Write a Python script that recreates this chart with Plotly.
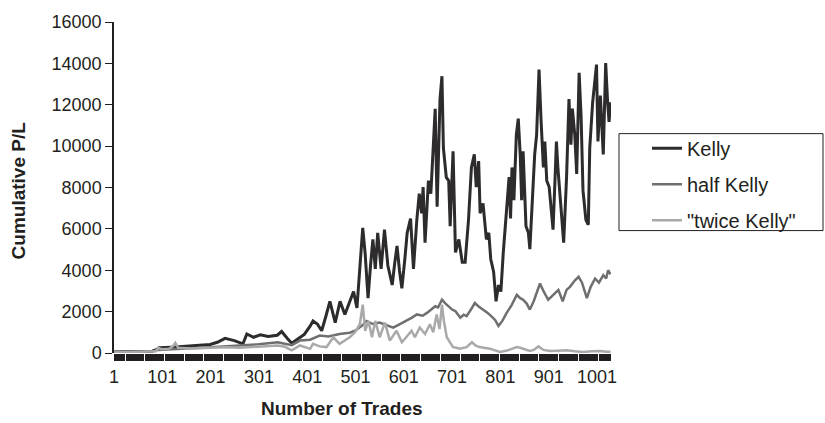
import plotly.graph_objects as go

# ---------------- data ----------------
kelly_trades = [1, 20, 50, 80, 90, 95, 120, 135, 160, 180, 200, 215, 231, 250, 268, 276, 290, 304, 320, 339,
                348, 360, 369, 380, 386, 395, 407, 413, 422, 431, 440, 448, 459, 469, 479, 490, 497, 504, 511, 516,
                521, 527, 532, 537, 542, 547, 554, 561, 568, 577, 582, 587, 592, 597, 603, 608, 615, 621, 628, 633,
                638, 641, 645, 652, 657, 661, 666, 670, 676, 680, 683, 689, 694, 697, 703, 708, 715, 722, 728, 735,
                741, 747, 751, 756, 759, 765, 772, 777, 781, 787, 792, 797, 802, 807, 813, 817, 819, 822, 825, 829,
                834, 838, 842, 845, 848, 854, 859, 862, 868, 872, 876, 881, 885, 890, 893, 897, 902, 907, 910, 914,
                917, 920, 924, 929, 932, 938, 943, 947, 950, 955, 959, 964, 968, 972, 978, 983, 986, 992, 997, 1000,
                1003, 1008, 1014, 1019, 1023, 1026, 1029]
kelly_pl = [50, 60, 70, 90, 180, 250, 280, 300, 320, 380, 410, 520, 710, 600, 445, 920, 760, 880, 800, 860,
            1040, 700, 475, 650, 760, 900, 1300, 1550, 1400, 1075, 1800, 2500, 1470, 2500, 1860, 2600, 2970, 2180, 4545, 6045,
            4800, 2650, 4200, 5490, 4070, 5810, 4070, 5965, 4230, 3285, 4300, 5180, 4000, 3125, 4500, 5810, 6500, 4070, 6440, 7700,
            6755, 8020, 5335, 8330, 7700, 9750, 11800, 7070, 12280, 13380, 9910, 8490, 8330, 6125, 9750, 4860, 5490, 4390, 4390, 6440,
            8970, 9600, 8020, 9280, 6755, 7230, 5490, 5810, 4545, 3915, 2495, 3285, 2970, 4860, 6600, 7545, 8500, 6500, 8970, 7385,
            10540, 11330, 9600, 7385, 9750, 6125, 5810, 5020, 8175, 9600, 10540, 13700, 11330, 8970, 10225, 8330, 8020, 6600, 5965, 8330,
            10225, 8970, 7700, 6600, 5335, 8490, 12280, 10070, 11810, 10540, 8650, 13540, 11490, 7860, 6440, 6200, 9910, 12120, 13380, 13940,
            10225, 12440, 9600, 14015, 12120, 11175, 12120]

half_trades = [1, 40, 80, 92, 110, 130, 160, 200, 230, 270, 300, 340, 369, 386, 407, 427, 445, 468, 489, 500,
               514, 524, 537, 551, 565, 579, 592, 606, 617, 628, 640, 649, 658, 666, 672, 680, 687, 694, 701, 708,
               718, 725, 731, 740, 748, 756, 766, 774, 782, 790, 797, 805, 814, 824, 835, 842, 848, 855, 862, 870,
               876, 883, 890, 900, 910, 921, 930, 938, 945, 955, 963, 970, 980, 988, 997, 1005, 1014, 1020, 1024, 1029]
half_pl = [50, 60, 80, 150, 180, 200, 230, 280, 330, 365, 420, 520, 380, 600, 640, 840, 800, 920, 980, 1075,
           1310, 1550, 1400, 1470, 1350, 1230, 1380, 1550, 1700, 1865, 1800, 1940, 2100, 2260, 2200, 2575, 2400, 2260, 2100, 2020,
           1705, 1850, 1785, 2100, 2415, 2250, 2100, 1950, 1785, 1600, 1310, 1550, 1940, 2300, 2810, 2650, 2575, 2400, 2100, 2500,
           2900, 3360, 3000, 2575, 2800, 3050, 2500, 3050, 3200, 3500, 3680, 3400, 2650, 3200, 3600, 3400, 3760, 3600, 4000, 3800]

twice_trades = [1, 40, 80, 88, 92, 100, 115, 124, 128, 134, 160, 200, 230, 260, 300, 340, 355, 369, 386, 407,
                413, 427, 441, 455, 468, 489, 500, 510, 516, 521, 528, 535, 542, 551, 562, 572, 586, 597, 606, 617,
                624, 634, 645, 655, 662, 669, 675, 680, 684, 690, 697, 703, 710, 717, 731, 742, 750, 758, 779, 800,
                815, 828, 835, 842, 862, 870, 880, 890, 904, 920, 938, 955, 973, 990, 1008, 1020, 1029]
twice_pl = [30, 40, 50, 80, 250, 180, 200, 350, 490, 250, 220, 250, 280, 250, 300, 365, 300, 130, 365, 200,
            445, 320, 285, 760, 445, 760, 1000, 1390, 2340, 1075, 1550, 760, 1550, 760, 1470, 600, 1075, 520, 760, 1075,
            760, 1230, 920, 1390, 1000, 1865, 1155, 2340, 1550, 760, 500, 285, 250, 210, 285, 520, 350, 285, 210, 50,
            120, 210, 285, 255, 95, 150, 320, 150, 95, 110, 130, 80, 50, 80, 95, 60, 60]

x_tick_start = 1
x_tick_step = 100
y_tick_step = 2000
series_names = ["Kelly", "half Kelly", "\"twice Kelly\""]

# ---------------- figure ----------------
INK = "#231f20"
FONT = "Liberation Sans, Arial, sans-serif"

fig = go.Figure()
for name, xs, ys, col, w in [
    (series_names[0], kelly_trades, kelly_pl, "#2d2b2c", 3),
    (series_names[1], half_trades, half_pl, "#6f6f6f", 2.5),
    (series_names[2], twice_trades, twice_pl, "#a9a9a9", 2.5),
]:
    fig.add_trace(go.Scatter(x=xs, y=ys, mode="lines", name=name, legendgroup=name,
                             line=dict(color=col, width=w), hoverinfo="skip"))

# invisible trace on an overlaid axis used for the white separators in the tick band
gap_positions = [24 + 40.8 * k for k in range(25)]
fig.add_trace(go.Scatter(x=[1, 1030], y=[None, None], xaxis="x2", showlegend=False, hoverinfo="skip"))

fig.update_layout(
    width=825, height=423,
    margin=dict(l=114, r=214, t=15, b=70),
    paper_bgcolor="white", plot_bgcolor="white",
    font=dict(family=FONT, size=18, color=INK),
    showlegend=True,
    legend=dict(x=(647 - 114) / 497, y=(353 - 124) / 338, xanchor="left", yanchor="top",
                bgcolor="rgba(0,0,0,0)", borderwidth=0,
                font=dict(family=FONT, size=20, color=INK),
                tracegroupgap=7, traceorder="grouped"),
    xaxis=dict(range=[1, 1030], showgrid=False, zeroline=False,
               showline=False,
               tick0=x_tick_start, dtick=x_tick_step,
               ticks="outside", ticklen=7, tickwidth=1, tickcolor=INK,
               minor=dict(ticks="outside", tick0=1, dtick=2, ticklen=7, tickwidth=1.3, tickcolor=INK),
               tickfont=dict(size=18, family=FONT, color=INK)),
    xaxis2=dict(range=[1, 1030], overlaying="x", anchor="y", side="bottom",
                showgrid=False, zeroline=False, showline=False, showticklabels=False,
                tickmode="array", tickvals=gap_positions,
                ticks="outside", ticklen=7, tickwidth=1.2, tickcolor="white"),
    yaxis=dict(range=[0, 16000], showgrid=False, zeroline=False,
               showline=True, linecolor=INK, linewidth=1.5,
               dtick=y_tick_step, tick0=0, tickformat="d",
               ticks="outside", ticklen=7, tickwidth=1, tickcolor=INK,
               tickfont=dict(size=18, family=FONT, color=INK)),
    shapes=[dict(type="rect", xref="paper", yref="paper",
                 x0=(619 - 114) / 497, x1=(823 - 114) / 497,
                 y0=(353 - 228) / 338, y1=(353 - 129) / 338,
                 line=dict(color=INK, width=1), fillcolor="rgba(0,0,0,0)")],
    annotations=[
        dict(text="<b>Number of Trades</b>", xref="paper", yref="paper",
             x=(342 - 114) / 497, y=(353 - 410) / 338, xanchor="center", yanchor="middle",
             showarrow=False, font=dict(size=19, family=FONT, color=INK)),
        dict(text="<b>Cumulative P/L</b>", xref="paper", yref="paper", textangle=-90,
             x=(18 - 114) / 497, y=(353 - 187) / 338, xanchor="center", yanchor="middle",
             showarrow=False, font=dict(size=19, family=FONT, color=INK)),
    ],
)

fig.write_html("out.html", config={"displayModeBar": False},
               post_script="document.body.style.margin='0px';")
